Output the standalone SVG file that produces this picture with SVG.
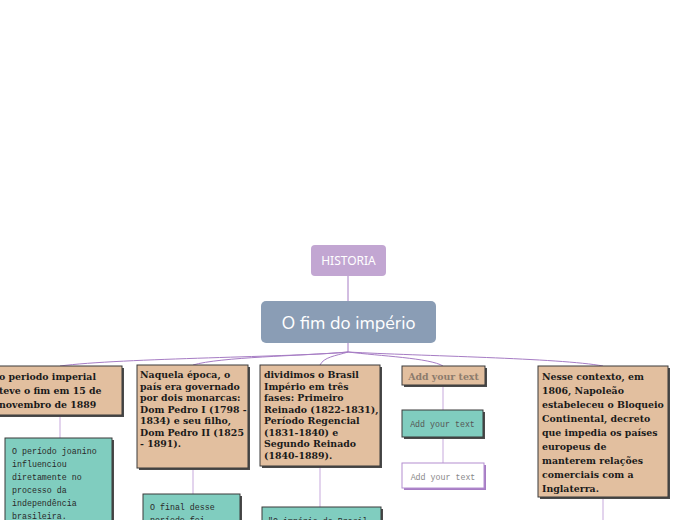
<svg xmlns="http://www.w3.org/2000/svg" width="696" height="520" viewBox="0 0 696 520">
<style>
.tan{fill:#e2bf9f;stroke:#3a3a3a;stroke-width:1}
.teal{fill:#80cdbf;stroke:#3a3a3a;stroke-width:1}
.sh{fill:#4a4a4a}
.ser{font-family:"DejaVu Serif","Liberation Serif",serif;font-weight:bold;font-size:9.4px;fill:#1a1a1a}
.mono{font-family:"Liberation Mono","DejaVu Sans Mono",monospace;font-size:8.3px;fill:#2a2a2a}
.con{fill:none;stroke:#a67cc4;stroke-width:1}
.con2{fill:none;stroke:#c7a9dc;stroke-width:1}
</style>
<rect width="696" height="520" fill="#ffffff"/>
<g id="connectors">
<path class="con" d="M348,276 L348,301" stroke-width="1.5"/>
<path class="con" d="M348,343 L348,352" stroke-width="1.5"/>
<path class="con" d="M348,352 C300,357 120,358 60,366"/>
<path class="con" d="M348,352 C300,356 220,357 193,365"/>
<path class="con" d="M348,352 C335,356 324,357 320,365"/>
<path class="con" d="M348,352 C380,356 430,358 443,366"/>
<path class="con" d="M348,352 C420,356 560,358 603,366"/>
<path class="con2" d="M60,415 L60,438"/>
<path class="con2" d="M193,468 L193,494"/>
<path class="con2" d="M320,467 L320,507"/>
<path class="con2" d="M443,385 L443,410"/>
<path class="con2" d="M443,437 L443,463"/>
<path class="con2" d="M603,497 L603,520"/>
</g>
<g id="historia">
<rect x="311" y="245" width="75" height="31" rx="4" fill="#c2a6d2"/>
<text x="348.5" y="265" text-anchor="middle" font-family="'Noto Sans','Open Sans',sans-serif" font-size="12" fill="#ffffff">HISTORIA</text>
</g>
<g id="main">
<rect x="261" y="301" width="175" height="42" rx="5" fill="#8a9db5"/>
<text x="348.5" y="329" text-anchor="middle" font-family="'Nunito','Noto Sans','Open Sans',sans-serif" font-size="18" fill="#ffffff">O fim do império</text>
</g>
<g id="n1">
<rect class="sh" x="-4" y="368" width="128" height="49"/>
<rect class="tan" x="-6" y="366" width="128" height="49"/>
<text class="ser"><tspan x="-1" y="380">o periodo imperial</tspan><tspan x="-1" y="394">teve o fim em 15 de</tspan><tspan x="-1" y="408">novembro de 1889</tspan></text>
</g>
<g id="n1c">
<rect class="sh" x="7" y="440" width="107" height="90"/>
<rect class="teal" x="5" y="438" width="107" height="90"/>
<text class="mono"><tspan x="12" y="454">O período joanino</tspan><tspan x="12" y="467">influenciou</tspan><tspan x="12" y="480">diretamente no</tspan><tspan x="12" y="493">processo da</tspan><tspan x="12" y="506">independência</tspan><tspan x="12" y="519">brasileira.</tspan></text>
</g>
<g id="n2">
<rect class="sh" x="139" y="367" width="111" height="103"/>
<rect class="tan" x="137" y="365" width="111" height="103"/>
<text class="ser"><tspan x="140" y="378">Naquela época, o</tspan><tspan x="140" y="389.5">país era governado</tspan><tspan x="140" y="401">por dois monarcas:</tspan><tspan x="140" y="412.5">Dom Pedro I (1798 -</tspan><tspan x="140" y="424">1834) e seu filho,</tspan><tspan x="140" y="435.5">Dom Pedro II (1825</tspan><tspan x="140" y="447">- 1891).</tspan></text>
</g>
<g id="n2c">
<rect class="sh" x="145" y="496" width="97" height="40"/>
<rect class="teal" x="143" y="494" width="97" height="40"/>
<text class="mono"><tspan x="150" y="510">O final desse</tspan><tspan x="150" y="523">período foi</tspan></text>
</g>
<g id="n3">
<rect class="sh" x="262" y="367" width="120" height="101"/>
<rect class="tan" x="260" y="365" width="120" height="101"/>
<text class="ser"><tspan x="264" y="378">dividimos o Brasil</tspan><tspan x="264" y="389.5">Império em três</tspan><tspan x="264" y="401">fases: Primeiro</tspan><tspan x="264" y="412.5">Reinado (1822-1831),</tspan><tspan x="264" y="424">Período Regencial</tspan><tspan x="264" y="435.5">(1831-1840) e</tspan><tspan x="264" y="447">Segundo Reinado</tspan><tspan x="264" y="458.5">(1840-1889).</tspan></text>
</g>
<g id="n3c">
<rect class="sh" x="264" y="509" width="119" height="30"/>
<rect class="teal" x="262" y="507" width="119" height="30"/>
<text class="mono"><tspan x="268" y="524">"O império do Brasil</tspan></text>
</g>
<g id="n4">
<rect class="sh" x="404" y="368" width="83" height="19"/>
<rect class="tan" x="402" y="366" width="83" height="19"/>
<text x="443.5" y="379.5" text-anchor="middle" font-family="'DejaVu Serif','Liberation Serif',serif" font-weight="bold" font-size="9.4" fill="#8c7b6c">Add your text</text>
</g>
<g id="n4a">
<rect class="sh" x="404" y="412" width="81" height="27"/>
<rect class="teal" x="402" y="410" width="81" height="27"/>
<text x="442.5" y="426.5" text-anchor="middle" font-family="'Liberation Mono','DejaVu Sans Mono',monospace" font-size="8.3" fill="#555555">Add your text</text>
</g>
<g id="n4b">
<rect x="404" y="465" width="82" height="25" fill="#a67cc4"/>
<rect x="402" y="463" width="82" height="25" fill="#ffffff" stroke="#b48ed0" stroke-width="1"/>
<text x="443" y="479.5" text-anchor="middle" font-family="'Liberation Mono','DejaVu Sans Mono',monospace" font-size="8.3" fill="#888888">Add your text</text>
</g>
<g id="n5">
<rect class="sh" x="540" y="368" width="130" height="131"/>
<rect class="tan" x="538" y="366" width="130" height="131"/>
<text class="ser"><tspan x="542" y="380">Nesse contexto, em</tspan><tspan x="542" y="394">1806, Napoleão</tspan><tspan x="542" y="408">estabeleceu o Bloqueio</tspan><tspan x="542" y="422">Continental, decreto</tspan><tspan x="542" y="436">que impedia os países</tspan><tspan x="542" y="450">europeus de</tspan><tspan x="542" y="464">manterem relações</tspan><tspan x="542" y="478">comerciais com a</tspan><tspan x="542" y="492">Inglaterra.</tspan></text>
</g>
</svg>
